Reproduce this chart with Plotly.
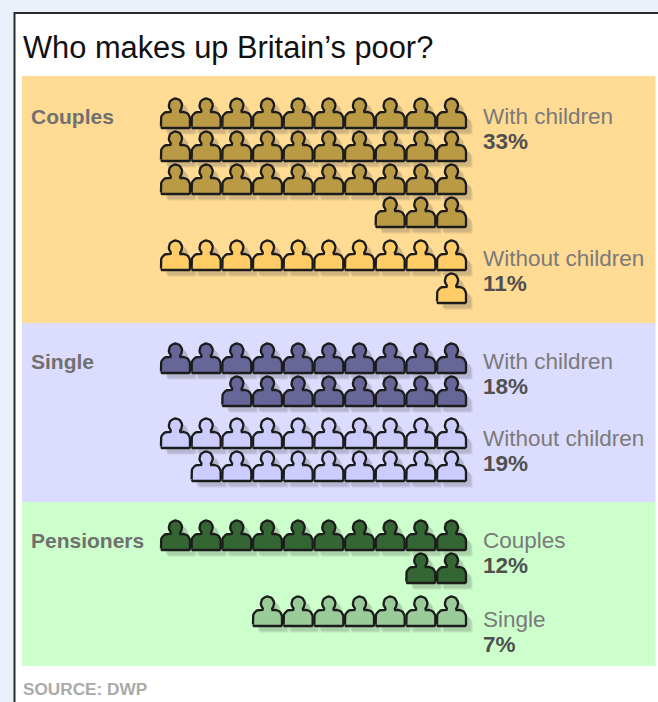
import math
import plotly.graph_objects as go

TITLE = "Who makes up Britain\u2019s poor?"
SOURCE = "SOURCE: DWP"

groups = ["Couples", "Single", "Pensioners"]
series_names = ["With children", "Without children",
                "With children", "Without children",
                "Couples", "Single"]
series_group = [0, 0, 1, 1, 2, 2]
series_percent = [33, 11, 18, 19, 12, 7]

# Styling and placement, all in pixel-like axis units
fills = ["#BB9A45", "#FFCC66", "#666699", "#CCCCFF", "#336633", "#99CC99"]
panel_colors = ["#FFDB94", "#DCDCFF", "#CCFFCC"]
panel_edges = [76, 323, 502, 666]
group_label_y = [116, 361, 540]
first_row_bottom = [128, 270, 373, 448, 550, 626]
label_y = [116, 258, 361, 438, 540, 619]
ROW_STEP = 33
COL_STEP = 30.67
RIGHT_ICON_X = 451.5
ICONS_PER_ROW = 10


def person_outline():
    """Closed outline of one person, centred on x=0 and standing on y=0."""
    pts = [(-14.5, -1.5)]
    # left shoulder
    for a in range(180, 271, 15):
        t = math.radians(a)
        pts.append((-8.0 + 6.5 * math.cos(t), -9.0 + 7.0 * math.sin(t)))
    pts.append((-5.0, -16.0))
    # head, swept over the top from lower left to lower right
    for a in range(225, -46, -15):
        t = math.radians(a)
        pts.append((6.6 * math.cos(t), -22.5 - 7.0 * math.sin(t)))
    pts.append((5.0, -16.0))
    # right shoulder
    for a in range(270, 361, 15):
        t = math.radians(a)
        pts.append((8.0 + 6.5 * math.cos(t), -9.0 + 7.0 * math.sin(t)))
    pts += [(14.5, -1.0), (13.5, 0), (-13.5, 0), (-14.5, -1.0)]
    return pts


OUTLINE = person_outline()


def icon_centres(count, base_y):
    """Right-aligned rows of ten; each icon stands for one percentage point."""
    out = []
    row = 0
    left = count
    while left > 0:
        n = min(left, ICONS_PER_ROW)
        for i in range(n):
            out.append((RIGHT_ICON_X - i * COL_STEP, base_y + row * ROW_STEP))
        left -= n
        row += 1
    return out


def outlines(centres, dx=0, dy=0):
    xs, ys = [], []
    for cx, cy in centres:
        xs += [cx + p[0] + dx for p in OUTLINE] + [None]
        ys += [cy + p[1] + dy for p in OUTLINE] + [None]
    return xs, ys


fig = go.Figure()

for k, name in enumerate(series_names):
    centres = icon_centres(series_percent[k], first_row_bottom[k])
    # soft drop shadow built from stacked translucent layers
    for off, alpha in ((7, 0.07), (6, 0.09), (5, 0.11)):
        sx, sy = outlines(centres, off, off)
        fig.add_trace(go.Scatter(
            x=sx, y=sy, mode="lines", fill="toself",
            fillcolor=f"rgba(70,70,70,{alpha})",
            line=dict(width=0), hoverinfo="skip", showlegend=False))
    x, y = outlines(centres)
    fig.add_trace(go.Scatter(
        x=x, y=y, mode="lines", fill="toself", fillcolor=fills[k],
        line=dict(color="#1c1c1c", width=2.3), name=name,
        hoverinfo="skip", showlegend=False))

shapes = [
    dict(type="rect", x0=0, x1=658, y0=0, y1=702, fillcolor="#EAF0FA",
         line_width=0, layer="below"),
    dict(type="rect", x0=14.5, x1=670, y0=13, y1=720, fillcolor="#FFFFFF",
         line=dict(color="#2A2A2A", width=2), layer="below"),
]
for i, color in enumerate(panel_colors):
    shapes.append(dict(type="rect", x0=22, x1=655.5, y0=panel_edges[i],
                       y1=panel_edges[i + 1], fillcolor=color, line_width=0,
                       layer="below"))

annotations = [
    dict(x=21, y=47, text=TITLE, xanchor="left", yanchor="middle",
         showarrow=False,
         font=dict(family="Liberation Sans", size=30.8, color="#111111")),
    dict(x=21, y=689, text=f"<b>{SOURCE}</b>", xanchor="left", yanchor="middle",
         showarrow=False,
         font=dict(family="Liberation Sans", size=17.2, color="#AAAAAA")),
]
for g, name in enumerate(groups):
    annotations.append(dict(
        x=29, y=group_label_y[g], text=f"<b>{name}</b>", xanchor="left",
        yanchor="middle", showarrow=False,
        font=dict(family="Liberation Sans", size=21, color="#707070")))
for k, name in enumerate(series_names):
    annotations.append(dict(
        x=481, y=label_y[k], text=name, xanchor="left", yanchor="middle",
        showarrow=False,
        font=dict(family="Liberation Sans", size=22.5, color="#7A7A7A")))
    annotations.append(dict(
        x=481, y=label_y[k] + 25, text=f"<b>{series_percent[k]}%</b>",
        xanchor="left", yanchor="middle", showarrow=False,
        font=dict(family="Liberation Sans", size=22.5, color="#505050")))

fig.update_layout(
    width=658, height=702, autosize=False,
    margin=dict(l=0, r=0, t=0, b=0),
    paper_bgcolor="#EAF0FA", plot_bgcolor="#EAF0FA",
    xaxis=dict(range=[0, 658], visible=False, fixedrange=True),
    yaxis=dict(range=[702, 0], visible=False, fixedrange=True),
    shapes=shapes, annotations=annotations, showlegend=False,
)

fig.write_html("out.html", config={"displayModeBar": False})
